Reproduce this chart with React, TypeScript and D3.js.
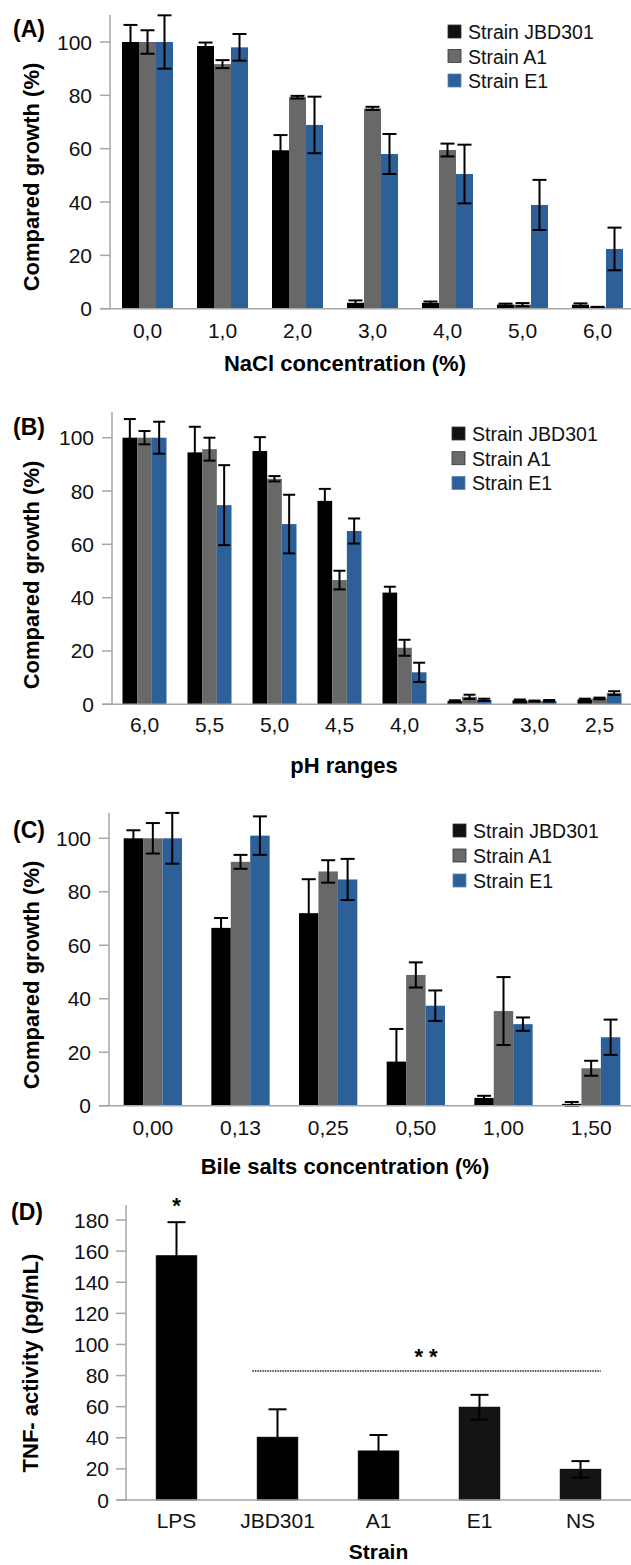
import React from "react";
import * as d3 from "d3";

// ---------- DATA ----------
const seriesNames = ["Strain JBD301", "Strain A1", "Strain E1"];

const naclCats = ["0,0", "1,0", "2,0", "3,0", "4,0", "5,0", "6,0"];
const naclJBD = [100, 98.5, 59.4, 2.2, 2.2, 1.5, 1.5];
const naclJBDErr = [6.4, 1.3, 5.7, 0.9, 0.5, 0.4, 0.5];
const naclA1 = [100, 91.7, 79.3, 75.1, 59.5, 1.5, 0.5];
const naclA1Err = [4.4, 1.5, 0.5, 0.6, 2.4, 0.6, 0.2];
const naclE1 = [100, 98, 68.9, 58, 50.5, 38.9, 22.4];
const naclE1Err = [10, 5, 10.6, 7.5, 11, 9.4, 8];

const phCats = ["6,0", "5,5", "5,0", "4,5", "4,0", "3,5", "3,0", "2,5"];
const phJBD = [100, 94.5, 95, 76.3, 41.9, 1.2, 1.5, 1.8];
const phJBDErr = [7, 9.6, 5.2, 4.5, 2.2, 0.3, 0.3, 0.3];
const phA1 = [100, 95.7, 84.6, 46.6, 21.2, 2.8, 1.2, 2.2];
const phA1Err = [2.5, 4.3, 1, 3.5, 3, 0.8, 0.2, 0.3];
const phE1 = [100, 74.7, 67.6, 65, 12, 1.7, 1.3, 4.2];
const phE1Err = [6, 15, 11, 4.7, 3.6, 0.4, 0.3, 0.7];

const bileCats = ["0,00", "0,13", "0,25", "0,50", "1,00", "1,50"];
const bileJBD = [100, 66.5, 72, 16.5, 2.9, 0.7];
const bileJBDErr = [3, 3.7, 12.7, 12.2, 0.8, 0.7];
const bileA1 = [100, 91.2, 87.6, 48.9, 35.4, 14];
const bileA1Err = [5.7, 2.6, 4.2, 4.7, 12.7, 2.8];
const bileE1 = [100, 101, 84.6, 37.4, 30.5, 25.6];
const bileE1Err = [9.5, 7.2, 7.7, 5.7, 2.5, 6.6];

const growthTicks = [0, 20, 40, 60, 80, 100];

const tnfCats = ["LPS", "JBD301", "A1", "E1", "NS"];
const tnfVals = [157, 40.3, 31.5, 59.6, 19.7];
const tnfErr = [21.6, 18, 10.3, 8, 5.3];
const tnfErrBelow = [false, false, false, true, true];
const tnfTicks = [0, 20, 40, 60, 80, 100, 120, 140, 160, 180];
const tnfSigLevel = 83;

// ---------- STYLE ----------
const FONT = "'Liberation Sans', Arial, Helvetica, sans-serif";
const COLORS = ["#000000", "#686868", "#2d6099"];
const LEGEND_COLORS = ["#111111", "#6a6a6a", "#2d6099"];
const AXIS = "#a6a6a6";

type PanelProps = {
  label: string;
  cats: string[];
  series: number[][];
  errs: number[][];
  xRange: [number, number];
  yBase: number;
  yTop: number; // pixel of 100
  axisTop: number;
  padding: number;
  capW: number;
  xTitle: string;
  xTitleX: number;
  xTitleY: number;
  tickBaseline: number;
  labelY: number;
  yTitleY: number;
  legendX: number;
  legendY: number;
  legendStep: number;
};

function GroupedPanel(p: PanelProps) {
  const x0 = d3.scaleBand<string>().domain(p.cats).range(p.xRange).paddingInner(p.padding).paddingOuter(p.padding / 2);
  const x1 = d3.scaleBand<string>().domain(seriesNames).range([0, x0.bandwidth()]);
  const y = d3.scaleLinear().domain([0, 100]).range([p.yBase, p.yTop]);
  const axisX = p.xRange[0];
  return (
    <g>
      <text x={13} y={p.labelY} fontSize={23} fontWeight="bold" fontFamily={FONT}>{p.label}</text>
      {/* bars */}
      {p.series.map((vals, si) =>
        vals.map((v, ci) => (
          <rect key={`b${si}-${ci}`} x={(x0(p.cats[ci]) as number) + (x1(seriesNames[si]) as number)} y={y(v)}
            width={x1.bandwidth()} height={y(0) - y(v)} fill={COLORS[si]} />
        ))
      )}
      {/* error bars */}
      {p.series.map((vals, si) =>
        vals.map((v, ci) => {
          const cx = (x0(p.cats[ci]) as number) + (x1(seriesNames[si]) as number) + x1.bandwidth() / 2;
          const e = p.errs[si][ci];
          const yt = y(v + e);
          const yb = y(Math.max(0, v - e));
          return (
            <g key={`e${si}-${ci}`} stroke="#000" strokeWidth={2}>
              <line x1={cx} x2={cx} y1={yt} y2={yb} />
              <line x1={cx - p.capW / 2} x2={cx + p.capW / 2} y1={yt} y2={yt} />
              <line x1={cx - p.capW / 2} x2={cx + p.capW / 2} y1={yb} y2={yb} />
            </g>
          );
        })
      )}
      {/* axes */}
      <line x1={axisX} x2={axisX} y1={p.axisTop} y2={p.yBase} stroke={AXIS} strokeWidth={1.5} />
      <line x1={axisX - 10} x2={631} y1={p.yBase} y2={p.yBase} stroke={AXIS} strokeWidth={1.5} />
      {growthTicks.map((t) => (
        <g key={`t${t}`}>
          <line x1={axisX - 10} x2={axisX} y1={y(t)} y2={y(t)} stroke={AXIS} strokeWidth={1.5} />
          <text x={axisX - 18} y={y(t) + 7.5} textAnchor="end" fontSize={21} fontFamily={FONT} fill="#111">{t}</text>
        </g>
      ))}
      {p.cats.map((c) => (
        <text key={`c${c}`} x={(x0(c) as number) + x0.bandwidth() / 2} y={p.tickBaseline} textAnchor="middle"
          fontSize={21} fontFamily={FONT} fill="#111">{c}</text>
      ))}
      <text x={p.xTitleX} y={p.xTitleY} textAnchor="middle" fontSize={22} fontWeight="bold" fontFamily={FONT}>{p.xTitle}</text>
      <text transform={`translate(${39},${p.yTitleY}) rotate(-90)`} textAnchor="middle" fontSize={22}
        fontWeight="bold" fontFamily={FONT}>Compared growth (%)</text>
      {/* legend */}
      {seriesNames.map((s, i) => (
        <g key={`l${s}`}>
          <rect x={p.legendX} y={p.legendY + i * p.legendStep - 7} width={13} height={13} fill={LEGEND_COLORS[i]}
            stroke={i === 2 ? "#5b84b8" : "#333"} strokeWidth={0.8} />
          <text x={p.legendX + 20} y={p.legendY + i * p.legendStep + 7} fontSize={19.5} fontFamily={FONT} fill="#111">{s}</text>
        </g>
      ))}
    </g>
  );
}

function TnfPanel() {
  const xr: [number, number] = [126, 631];
  const x = d3.scaleBand<string>().domain(tnfCats).range(xr).paddingInner(0.6).paddingOuter(0.3);
  const y = d3.scaleLinear().domain([0, 180]).range([1500, 1220]);
  const capW = 18;
  const sigX1 = (x(tnfCats[1]) as number) - 5;
  const sigX2 = (x(tnfCats[tnfCats.length - 1]) as number) + x.bandwidth();
  return (
    <g>
      <text x={11} y={1220} fontSize={23} fontWeight="bold" fontFamily={FONT}>(D)</text>
      {tnfVals.map((v, i) => (
        <rect key={`tb${i}`} x={x(tnfCats[i])} y={y(v)} width={x.bandwidth()} height={y(0) - y(v)}
          fill={i < 3 ? "#000" : "#141414"} stroke="#000" strokeWidth={1} />
      ))}
      {tnfVals.map((v, i) => {
        const cx = (x(tnfCats[i]) as number) + x.bandwidth() / 2;
        const yt = y(v + tnfErr[i]);
        const yb = tnfErrBelow[i] ? y(v - tnfErr[i]) : y(v);
        return (
          <g key={`te${i}`} stroke="#000" strokeWidth={2}>
            <line x1={cx} x2={cx} y1={yt} y2={yb} />
            <line x1={cx - capW / 2} x2={cx + capW / 2} y1={yt} y2={yt} />
            {tnfErrBelow[i] && <line x1={cx - capW / 2} x2={cx + capW / 2} y1={yb} y2={yb} />}
          </g>
        );
      })}
      <line x1={126} x2={126} y1={1205} y2={1500} stroke={AXIS} strokeWidth={1.5} />
      <line x1={116} x2={631} y1={1500} y2={1500} stroke={AXIS} strokeWidth={1.5} />
      {tnfTicks.map((t) => (
        <g key={`tt${t}`}>
          <line x1={116} x2={126} y1={y(t)} y2={y(t)} stroke={AXIS} strokeWidth={1.5} />
          <text x={109} y={y(t) + 7.5} textAnchor="end" fontSize={21} fontFamily={FONT} fill="#111">{t}</text>
        </g>
      ))}
      {tnfCats.map((c) => (
        <text key={`tc${c}`} x={(x(c) as number) + x.bandwidth() / 2} y={1528} textAnchor="middle" fontSize={21}
          fontFamily={FONT} fill="#111">{c}</text>
      ))}
      <line x1={sigX1} x2={sigX2} y1={y(tnfSigLevel)} y2={y(tnfSigLevel)} stroke="#222" strokeWidth={1.5}
        strokeDasharray="1.5 1" />
      <text x={(x(tnfCats[0]) as number) + x.bandwidth() / 2} y={1213} textAnchor="middle" fontSize={22}
        fontWeight="bold" fontFamily={FONT}>*</text>
      <text x={426} y={1364} textAnchor="middle" fontSize={22} fontWeight="bold" fontFamily={FONT}>* *</text>
      <text x={378.5} y={1559} textAnchor="middle" fontSize={21} fontWeight="bold" fontFamily={FONT}>Strain</text>
      <text transform={`translate(${38},${1363}) rotate(-90)`} textAnchor="middle" fontSize={22} fontWeight="bold"
        fontFamily={FONT}>TNF- activity (pg/mL)</text>
    </g>
  );
}

export default function App() {
  return (
    <svg width={631} height={1565} style={{ position: "absolute", left: 0, top: 0, background: "#fff" }}>
      <rect width={631} height={1565} fill="#fff" />
      <GroupedPanel label="(A)" cats={naclCats} series={[naclJBD, naclA1, naclE1]} errs={[naclJBDErr, naclA1Err, naclE1Err]}
        xRange={[110, 635]} yBase={308.7} yTop={42} axisTop={15} padding={0.32} capW={14}
        xTitle="NaCl concentration (%)" xTitleX={345} xTitleY={371} tickBaseline={338} labelY={37}
        yTitleY={177} legendX={448} legendY={32} legendStep={24.5} />
      <GroupedPanel label="(B)" cats={phCats} series={[phJBD, phA1, phE1]} errs={[phJBDErr, phA1Err, phE1Err]}
        xRange={[112, 632]} yBase={704.3} yTop={437.7} axisTop={411.7} padding={0.323} capW={12}
        xTitle="pH ranges" xTitleX={344} xTitleY={773} tickBaseline={732} labelY={435}
        yTitleY={575} legendX={452} legendY={434} legendStep={24.7} />
      <GroupedPanel label="(C)" cats={bileCats} series={[bileJBD, bileA1, bileE1]} errs={[bileJBDErr, bileA1Err, bileE1Err]}
        xRange={[109, 635]} yBase={1105.7} yTop={838.3} axisTop={812.7} padding={0.335} capW={14}
        xTitle="Bile salts concentration (%)" xTitleX={345} xTitleY={1174} tickBaseline={1135} labelY={838}
        yTitleY={975} legendX={453} legendY={831} legendStep={25} />
      <TnfPanel />
    </svg>
  );
}
